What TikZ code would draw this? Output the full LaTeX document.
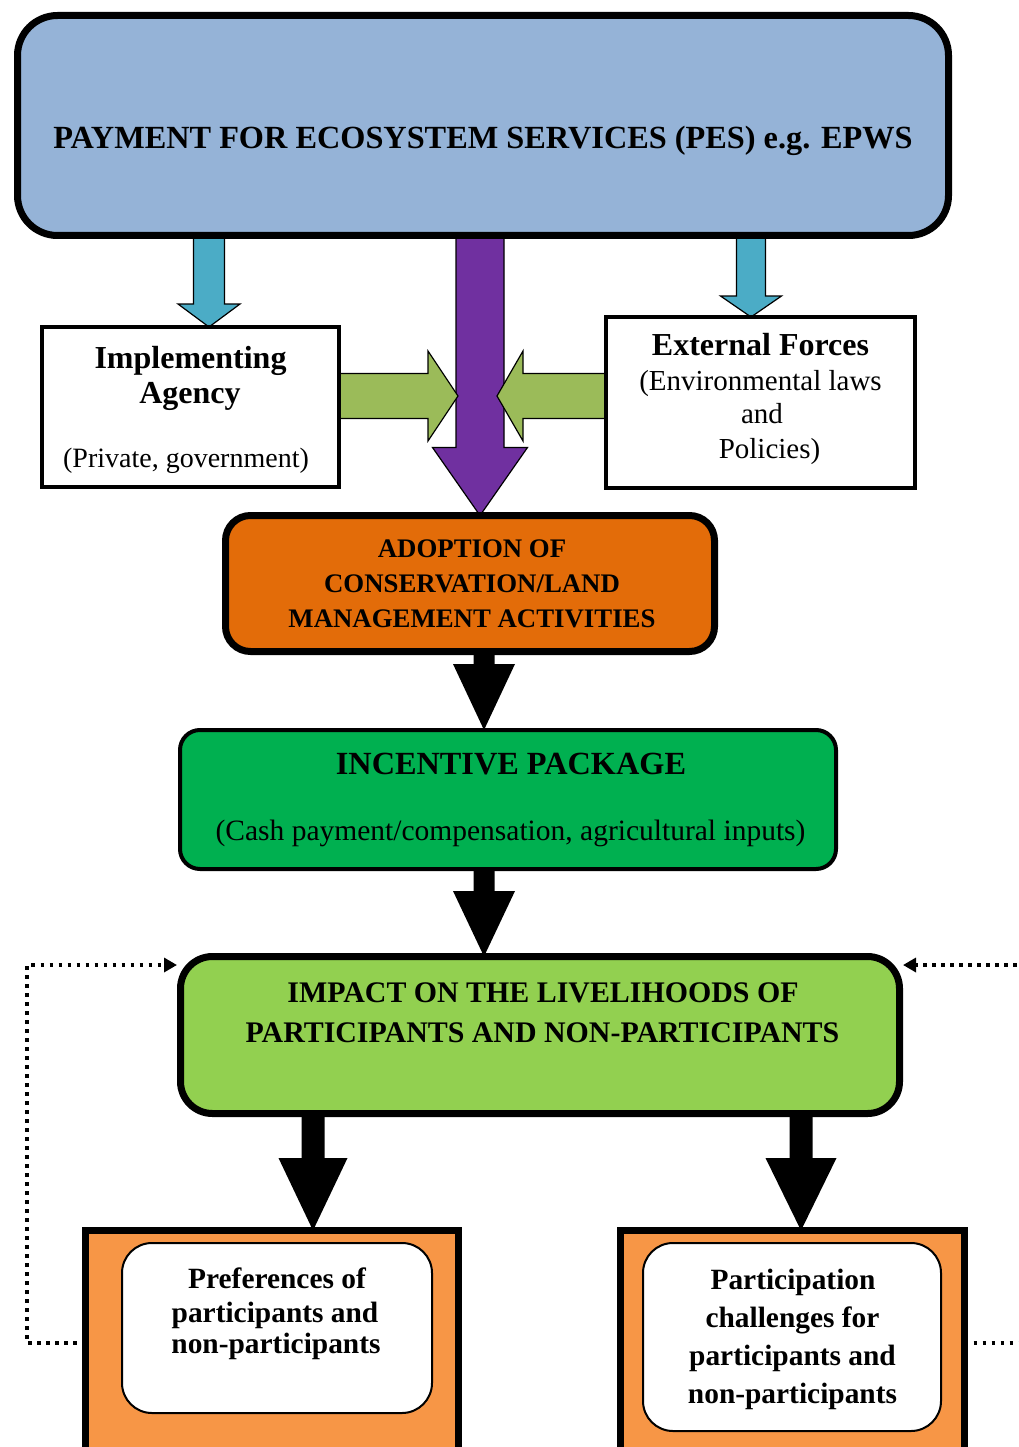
\documentclass[tikz,border=0pt]{standalone}
\usepackage{fontspec}
\setmainfont{Liberation Serif}
\usetikzlibrary{arrows.meta,backgrounds,calc}
\definecolor{pesblue}{HTML}{95B3D7}
\definecolor{arrblue}{HTML}{4BACC6}
\definecolor{arrpurple}{HTML}{7030A0}
\definecolor{arrgreen}{HTML}{9BBB59}
\definecolor{adoptorange}{HTML}{E36C09}
\definecolor{incgreen}{HTML}{00B050}
\definecolor{impgreen}{HTML}{92D050}
\definecolor{lightorange}{HTML}{F79646}

% vertical block arrow: #1 start, #2 tip, #3 half shaft, #4 half head, #5 head length, #6 style
\newcommand{\vblock}[6]{\path[#6] let \p1=(#1), \p2=(#2) in
 (\x2-#3pt,\y1) -- (\x2-#3pt,\y2+#5pt) -- (\x2-#4pt,\y2+#5pt) -- (\x2,\y2)
 -- (\x2+#4pt,\y2+#5pt) -- (\x2+#3pt,\y2+#5pt) -- (\x2+#3pt,\y1) -- cycle;}
% horizontal block arrow
\newcommand{\hblock}[6]{\path[#6] let \p1=(#1), \p2=(#2), \n1={(\x2>\x1)?1:-1} in
 (\x1,\y2-#3pt) -- ({\x2-(\n1)*#5pt},\y2-#3pt) -- ({\x2-(\n1)*#5pt},\y2-#4pt) -- (\x2,\y2)
 -- ({\x2-(\n1)*#5pt},\y2+#4pt) -- ({\x2-(\n1)*#5pt},\y2+#3pt) -- (\x1,\y2+#3pt) -- cycle;}

\begin{document}
\begin{tikzpicture}[x=1pt,y=-1pt,
  box/.style={draw=black,inner sep=0pt,outer sep=0pt},
  txt/.style={inner sep=0pt,anchor=base},
  fbig/.style={txt,font=\fontsize{32.3pt}{36pt}\selectfont\bfseries},
  fhead/.style={txt,font=\fontsize{32pt}{36pt}\selectfont\bfseries},
  freg/.style={txt,font=\fontsize{29pt}{34pt}\selectfont},
  fcash/.style={txt,font=\fontsize{29.5pt}{34pt}\selectfont},
  fsmall/.style={txt,font=\fontsize{28pt}{33pt}\selectfont},
  forange/.style={txt,font=\fontsize{26.8pt}{32pt}\selectfont\bfseries},
  fimp/.style={txt,font=\fontsize{29.9pt}{34pt}\selectfont\bfseries},
  fbot/.style={txt,font=\fontsize{29.4pt}{34pt}\selectfont\bfseries},
  arrline/.style={draw=black,line width=1.2pt,line join=miter},
  dotline/.style={line width=3.6pt,dash pattern=on 3.6pt off 5.4pt,-{Triangle[length=13pt,width=14pt]}}]
\useasboundingbox (0,0) rectangle (1019,1447);
\clip (0,0) rectangle (1019,1447);

% boxes
\node[box,fill=pesblue,line width=7pt,rounded corners=40pt,minimum width=931pt,minimum height=220pt] (pes) at (483,125.5) {};
\node[box,fill=white,line width=4pt,minimum width=297pt,minimum height=160pt] (ia) at (190.5,407) {};
\node[box,fill=white,line width=4pt,minimum width=309pt,minimum height=171pt] (ef) at (760.5,402.5) {};
\node[box,fill=adoptorange,line width=7pt,rounded corners=25pt,minimum width=489pt,minimum height=136pt] (adopt) at (470,583.5) {};
\node[box,fill=incgreen,line width=4pt,rounded corners=20pt,minimum width=656pt,minimum height=139pt] (inc) at (508,799.5) {};
\node[box,fill=impgreen,line width=7pt,rounded corners=32pt,minimum width=719pt,minimum height=157pt] (imp) at (540,1035) {};
\node[box,fill=lightorange,line width=7pt,minimum width=373pt,minimum height=240pt] (pl) at (272,1350.5) {};
\node[box,fill=lightorange,line width=7pt,minimum width=344pt,minimum height=240pt] (pr) at (792.5,1350.5) {};
\node[box,fill=white,line width=2pt,rounded corners=30pt,minimum width=310pt,minimum height=170pt] (pli) at (277,1328) {};
\node[box,fill=white,line width=2pt,rounded corners=30pt,minimum width=298pt,minimum height=188pt] (pri) at (792,1337) {};

% block arrows behind the boxes
\coordinate (gl) at (458,396);
\coordinate (gr) at (497,396);
\begin{pgfonlayer}{background}
\vblock{480,0 |- pes.center}{480,0 |- adopt.north}{24}{47.5}{68}{fill=arrpurple,arrline}
\hblock{ia.center}{gl}{22.5}{45}{30}{fill=arrgreen,arrline}
\hblock{ef.center}{gr}{22.5}{45}{26}{fill=arrgreen,arrline}
\vblock{209,0 |- pes.center}{209,0 |- ia.north}{15.5}{31}{23}{fill=arrblue,arrline}
\vblock{751,0 |- pes.center}{751,0 |- ef.north}{14.5}{30.5}{21}{fill=arrblue,arrline}
\vblock{484,0 |- adopt.center}{484,0 |- inc.north}{10.5}{31}{66}{fill=black}
\vblock{484,0 |- inc.center}{484,0 |- imp.north}{10.5}{31}{65.5}{fill=black}
\vblock{313,0 |- imp.center}{313,0 |- pl.north}{11.5}{34.5}{72.5}{fill=black}
\vblock{801,0 |- imp.center}{801,0 |- pr.north}{11.5}{35.5}{72.5}{fill=black}
\end{pgfonlayer}

% dotted feedback connectors
\coordinate (lb) at (27,1343);
\coordinate (lt) at (27,965);
\coordinate (rb) at (1040,1343);
\coordinate (rt) at (1040,965);
\draw[dotline] ([yshift=7.5pt]pl.west) -- (lb) -- (lt) -- ([shift={(-3.5pt,70pt)}]imp.west);
\draw[dotline] ([yshift=7.5pt]pr.east) -- (rb) -- (rt) -- ([shift={(3.5pt,70pt)}]imp.east);

% texts
\node[fbig] (tpes) at (483,149) {PAYMENT FOR ECOSYSTEM SERVICES (PES) e.g. EPWS};

\node[fhead] (tia1) at (190.5,368) {Implementing};
\node[fhead] (tia2) at (190,403) {Agency};
\node[fsmall] (tia3) at (186,467) {(Private, government)};

\node[fhead] (tef1) at (760.5,355) {External Forces};
\node[freg] (tef2) at (760.5,390) {(Environmental laws};
\node[freg] (tef3) at (762,423) {and};
\node[freg] (tef4) at (769.5,458) {Policies)};

\node[forange] (tad1) at (472,557) {ADOPTION OF};
\node[forange] (tad2) at (472,592) {CONSERVATION/LAND};
\node[forange] (tad3) at (472,627) {MANAGEMENT ACTIVITIES};

\node[fbig] (tin1) at (511,774) {INCENTIVE PACKAGE};
\node[fcash] (tin2) at (510.5,840) {(Cash payment/compensation, agricultural inputs)};

\node[fimp] (tim1) at (543,1002) {IMPACT ON THE LIVELIHOODS OF};
\node[fimp] (tim2) at (542.5,1042) {PARTICIPANTS AND NON-PARTICIPANTS};

\node[fbot] (tp1) at (277,1288) {Preferences of};
\node[fbot] (tp2) at (275,1322) {participants and};
\node[fbot] (tp3) at (276,1353) {non-participants};

\node[fbot] (tc1) at (793,1289) {Participation};
\node[fbot] (tc2) at (792.5,1327) {challenges for};
\node[fbot] (tc3) at (792.5,1365) {participants and};
\node[fbot] (tc4) at (792.5,1403) {non-participants};
\end{tikzpicture}
\end{document}
